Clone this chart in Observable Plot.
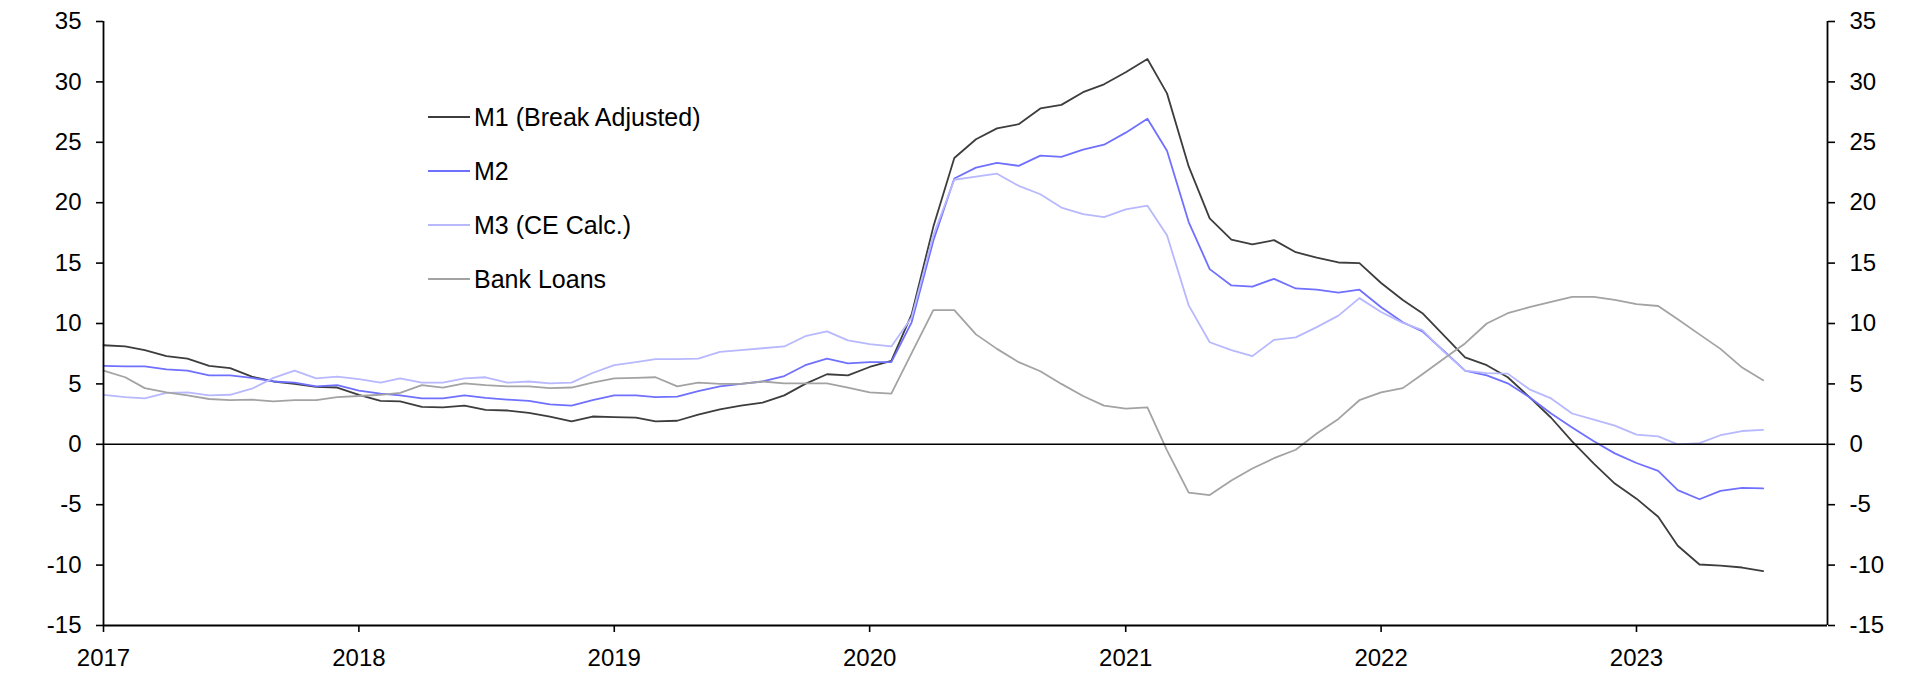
<!DOCTYPE html>
<html>
<head>
<meta charset="utf-8">
<script src="https://cdn.jsdelivr.net/npm/d3@7"></script>
<script src="https://cdn.jsdelivr.net/npm/@observablehq/plot@0.6"></script>
<style>
  html, body { margin: 0; padding: 0; background: #fff; }
  #wrap { position: relative; width: 1923px; height: 692px; font-family: "Liberation Sans", Arial, sans-serif; }
  #legend { position: absolute; left: 428px; top: 90px; font-size: 25px; color: #000; }
  #legend .row { display: flex; align-items: center; height: 54px; }
  #legend .sw { width: 42px; height: 0; border-top: 2px solid; margin-right: 4px; }
</style>
</head>
<body>
<div id="wrap"><div id="legend"></div></div>
<script>
// Monthly series, Jan 2017 .. Jul 2023 (% y/y)
const startMonth = "2017-01";
const seriesNames = ["M1 (Break Adjusted)", "M2", "M3 (CE Calc.)", "Bank Loans"];
const seriesColors = ["#3d3d3d", "#7070ff", "#b8b8ff", "#a3a3a3"];

const m1 = [8.2, 8.1, 7.8, 7.3, 7.1, 6.5, 6.3, 5.6, 5.2, 5.0, 4.75, 4.7,
  4.1, 3.6, 3.55, 3.1, 3.05, 3.2, 2.85, 2.8, 2.6, 2.3, 1.9, 2.3,
  2.25, 2.2, 1.9, 1.95, 2.45, 2.9, 3.2, 3.45, 4.05, 5.0, 5.8, 5.7,
  6.4, 6.9, 10.75, 18.0, 23.7, 25.25, 26.15, 26.5, 27.8, 28.1, 29.15, 29.8,
  30.8, 31.9, 29.05, 23.0, 18.7, 16.95, 16.55, 16.9, 15.9, 15.45, 15.05, 15.0,
  13.35, 11.95, 10.85, 9.0, 7.2, 6.55, 5.55, 3.9, 2.2, 0.25, -1.6, -3.25,
  -4.5, -6.0, -8.4, -9.95, -10.05, -10.2, -10.5];

const m2 = [6.5, 6.45, 6.45, 6.2, 6.1, 5.7, 5.7, 5.5, 5.2, 5.1, 4.8, 4.9,
  4.45, 4.2, 4.05, 3.8, 3.8, 4.05, 3.85, 3.7, 3.6, 3.3, 3.2, 3.65,
  4.05, 4.05, 3.9, 3.95, 4.4, 4.8, 5.0, 5.2, 5.65, 6.55, 7.1, 6.7,
  6.8, 6.8, 10.1, 16.85, 22.0, 22.9, 23.3, 23.05, 23.9, 23.8, 24.4, 24.8,
  25.8, 26.95, 24.3, 18.4, 14.5, 13.15, 13.05, 13.7, 12.9, 12.8, 12.55, 12.8,
  11.35, 10.1, 9.35, 7.7, 6.1, 5.7, 5.05, 3.9, 2.55, 1.4, 0.25, -0.75,
  -1.55, -2.2, -3.8, -4.55, -3.85, -3.6, -3.65];

const m3 = [4.1, 3.9, 3.8, 4.25, 4.3, 4.05, 4.1, 4.6, 5.5, 6.1, 5.45, 5.6,
  5.4, 5.1, 5.45, 5.1, 5.1, 5.45, 5.55, 5.1, 5.2, 5.05, 5.1, 5.9,
  6.55, 6.8, 7.05, 7.05, 7.1, 7.65, 7.8, 7.95, 8.1, 8.95, 9.35, 8.6,
  8.3, 8.1, 10.5, 17.3, 21.9, 22.15, 22.4, 21.4, 20.7, 19.6, 19.05, 18.8,
  19.45, 19.75, 17.3, 11.5, 8.45, 7.8, 7.3, 8.65, 8.85, 9.7, 10.65, 12.1,
  10.95, 10.05, 9.45, 7.65, 6.1, 5.9, 5.85, 4.55, 3.8, 2.55, 2.05, 1.55,
  0.8, 0.65, 0.0, 0.1, 0.75, 1.1, 1.2];

const bankLoans = [6.1, 5.55, 4.65, 4.3, 4.05, 3.75, 3.65, 3.7, 3.55, 3.65, 3.65, 3.9,
  4.0, 4.1, 4.25, 4.9, 4.7, 5.05, 4.9, 4.8, 4.8, 4.65, 4.7, 5.1,
  5.45, 5.5, 5.55, 4.8, 5.1, 5.0, 5.0, 5.2, 5.05, 5.05, 5.05, 4.7,
  4.3, 4.2, 7.55, 11.1, 11.1, 9.1, 7.9, 6.8, 6.05, 5.0, 4.0, 3.2,
  2.95, 3.05, -0.5, -4.0, -4.2, -3.0, -2.0, -1.15, -0.45, 0.9, 2.1, 3.65,
  4.3, 4.65, 5.8, 7.1, 8.35, 10.0, 10.85, 11.35, 11.8, 12.2, 12.2, 11.95,
  11.6, 11.45, 10.35, 9.1, 7.9, 6.35, 5.3];

const yTicks = [-15, -10, -5, 0, 5, 10, 15, 20, 25, 30, 35];
const xTickYears = [2017, 2018, 2019, 2020, 2021, 2022, 2023];
const xDomainYears = ["2017-01", "2023-10"];

const parseMonth = d3.utcParse("%Y-%m");
const start = parseMonth(startMonth);
const allSeries = [m1, m2, m3, bankLoans];
const data = [];
allSeries.forEach((vals, s) => {
  vals.forEach((v, i) => {
    data.push({date: d3.utcMonth.offset(start, i), value: v, series: seriesNames[s]});
  });
});
const xDomain = xDomainYears.map(parseMonth);
const xTicks = xTickYears.map(y => new Date(Date.UTC(y, 0, 1)));

const chart = Plot.plot({
  width: 1923,
  height: 692,
  marginLeft: 103,
  marginRight: 96,
  marginTop: 21,
  marginBottom: 67,
  style: {fontFamily: "'Liberation Sans', Arial, sans-serif", fontSize: "24px", color: "#000", background: "#fff"},
  x: {type: "utc", domain: xDomain, label: null},
  y: {domain: [-15, 35], label: null},
  color: {domain: seriesNames, range: seriesColors},
  marks: [
    Plot.line(data, {x: "date", y: "value", z: "series", stroke: "series", strokeWidth: 1.8}),
    Plot.ruleY([0], {stroke: "#000", strokeWidth: 1.6}),
    Plot.ruleY([-15], {stroke: "#000", strokeWidth: 1.8}),
    Plot.ruleX(xDomain, {stroke: "#000", strokeWidth: 1.8}),
    Plot.axisY({anchor: "left", label: null, ticks: yTicks, tickFormat: d => String(d), tickSize: 7, tickPadding: 15, strokeWidth: 1.6, fontSize: 24}),
    Plot.axisY({anchor: "right", label: null, ticks: yTicks, tickFormat: d => String(d), tickSize: 7, tickPadding: 15, strokeWidth: 1.6, fontSize: 24}),
    Plot.axisX({label: null, ticks: xTicks, tickFormat: d3.utcFormat("%Y"), tickSize: 7, tickPadding: 16, strokeWidth: 1.6, fontSize: 24})
  ]
});
document.getElementById("wrap").prepend(chart);

const legend = document.getElementById("legend");
seriesNames.forEach((name, i) => {
  const row = document.createElement("div");
  row.className = "row";
  const sw = document.createElement("span");
  sw.className = "sw";
  sw.style.borderTopColor = seriesColors[i];
  const label = document.createElement("span");
  label.textContent = name;
  row.appendChild(sw);
  row.appendChild(label);
  legend.appendChild(row);
});
</script>
</body>
</html>
